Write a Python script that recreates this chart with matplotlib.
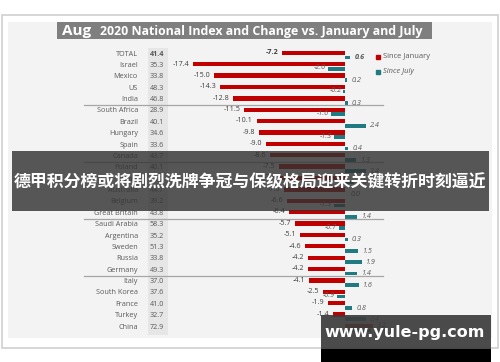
import matplotlib.pyplot as plt
from matplotlib.patches import Rectangle
from matplotlib.transforms import blended_transform_factory

# ---- data ----
countries = ["TOTAL", "Israel", "Mexico", "US", "India",
             "South Africa", "Brazil", "Hungary", "Spain", "Canada",
             "Poland", "Japan", "Australia", "Belgium", "Great Britain",
             "Saudi Arabia", "Argentina", "Sweden", "Russia", "Germany",
             "Italy", "South Korea", "France", "Turkey", "China"]
index_vals = [41.4, 35.3, 33.8, 48.3, 46.8,
              28.9, 40.1, 34.6, 33.6, 43.7,
              40.1, 36.2, 44.7, 39.2, 43.8,
              58.3, 35.2, 51.3, 33.8, 49.3,
              37.0, 37.6, 41.0, 32.7, 72.9]
since_jan = [-7.2, -17.4, -15.0, -14.3, -12.8,
             -11.5, -10.1, -9.8, -9.0, -8.6,
             -7.5, -7.4, -7.0, -6.6, -6.4,
             -5.7, -5.1, -4.6, -4.2, -4.2,
             -4.1, -2.5, -1.9, -1.4, 3.2]
since_jul = [0.6, -2.0, 0.2, -0.2, 0.3,
             -1.6, 2.4, -1.3, 0.4, 1.3,
             2.4, 1.0, 0.0, -1.3, 1.4,
             -0.7, 0.3, 1.5, 1.9, 1.4,
             1.6, -0.9, 0.8, 2.4, 3.0]
group_sizes = [5, 5, 5, 5, 5]

title_month = "Aug"
title_rest = "2020 National Index and Change vs. January and July"
legend_labels = ["Since January", "Since July"]
banner_text = "德甲积分榜或将剧烈洗牌争冠与保级格局迎来关键转折时刻逼近"
watermark_text = "www.yule-pg.com"

RED = "#C00000"
TEAL = "#1F7A82"
TXT = "#595959"
FONT = "Open Sans"

W, H = 500, 362
fig = plt.figure(figsize=(5, 3.62), dpi=100)

# background layer in pixel units
bg = fig.add_axes([0, 0, 1, 1])
bg.set_xlim(0, W)
bg.set_ylim(H, 0)
bg.axis("off")
bg.add_patch(Rectangle((1.5, 14.5), 496, 333, facecolor="white",
                       edgecolor="#cfcfcf", lw=1.2))
bg.add_patch(Rectangle((8, 22), 484, 316, facecolor="#f3f3f3", lw=0))
bg.add_patch(Rectangle((57, 22), 375, 17, facecolor="#7f7f7f", lw=0))
bg.text(62, 31, title_month, color="white", fontsize=11, fontweight="bold",
        family=FONT, va="center", ha="left")
bg.text(100, 31, title_rest, color="white", fontsize=8.9, fontweight="bold",
        family=FONT, va="center", ha="left")
bg.add_patch(Rectangle((148, 48), 20, 287, facecolor="#e6e6e6", lw=0))

# chart layer: x in change units, y in rows
ZERO_PX, UNIT_PX = 345, 8.74
ROW0_PX, PITCH_PX = 54, 11.38
ax = fig.add_axes([0, 0, 1, 1])
ax.patch.set_alpha(0)
ax.set_xlim(-ZERO_PX / UNIT_PX, (W - ZERO_PX) / UNIT_PX)
ax.set_ylim((H - ROW0_PX) / PITCH_PX, -ROW0_PX / PITCH_PX)
ax.axis("off")
rows = list(range(len(countries)))
ax.barh([r - 0.1 for r in rows], since_jan, height=0.38, color=RED)
ax.barh([r + 0.3 for r in rows], since_jul, height=0.32, color=TEAL)

tr = blended_transform_factory(bg.transData, ax.transData)
for i, (c, v, j, m) in enumerate(zip(countries, index_vals, since_jan, since_jul)):
    bold = "bold" if i == 0 else "normal"
    ax.text(138, i, c, transform=tr, ha="right", va="center", fontsize=5.2,
            color=TXT, family=FONT)
    ax.text(150, i, f"{v:.1f}", transform=tr, ha="left", va="center",
            fontsize=5.2, color=TXT, family=FONT, fontweight=bold)
    if j < 0:
        ax.text(j - 0.45, i - 0.12, f"{j:.1f}", ha="right", va="center",
                fontsize=5.2, color="#404040", family=FONT, fontweight=bold)
    else:
        ax.text(j + 0.45, i - 0.12, f"{j:.1f}", ha="left", va="center",
                fontsize=5.2, color="#404040", family=FONT, fontweight=bold)
    if m < 0:
        ax.text(m - 0.2, i + 0.22, f"{m:.1f}", ha="right", va="center",
                fontsize=5.2, color=TXT, family=FONT, style="italic",
                fontweight=bold)
    else:
        ax.text(max(m, 0.1) + 0.5, i + 0.32, f"{m:.1f}", ha="left", va="center",
                fontsize=5.2, color=TXT, family=FONT, style="italic",
                fontweight=bold)

# group separators
b = 0
for g in group_sizes[:-1]:
    b += g
    ax.plot([84, 383], [b - 0.5, b - 0.5], transform=tr, color="#a6a6a6", lw=0.9)

# legend
for k, (lab, col) in enumerate(zip(legend_labels, [RED, TEAL])):
    y = 0.25 + 1.3 * k
    ax.plot([378], [y], transform=tr, marker="s", ms=3, color=col, ls="none")
    ax.text(383, y, lab, transform=tr, ha="left", va="center", fontsize=5.4,
            color=TXT, family=FONT, style="italic" if k == 1 else "normal")

# overlays
ov = fig.add_axes([0, 0, 1, 1])
ov.patch.set_alpha(0)
ov.set_xlim(0, W)
ov.set_ylim(H, 0)
ov.axis("off")
ov.add_patch(Rectangle((12, 151), 477, 60, facecolor="#333333", alpha=0.82, lw=0))
ov.text(250, 182, banner_text, color="white", fontsize=12.2, fontweight="bold",
        family=["Noto Sans CJK SC", "DejaVu Sans"], ha="center", va="center")
ov.add_patch(Rectangle((321, 315), 170, 35, facecolor="#3c3c3c", alpha=0.92, lw=0))
ov.add_patch(Rectangle((321, 349), 170, 13, facecolor="black", lw=0))
ov.text(405, 333, watermark_text, color="white", fontsize=11.5, fontweight="bold",
        family="DejaVu Sans", ha="center", va="center")

fig.savefig("out.png", dpi=100)
